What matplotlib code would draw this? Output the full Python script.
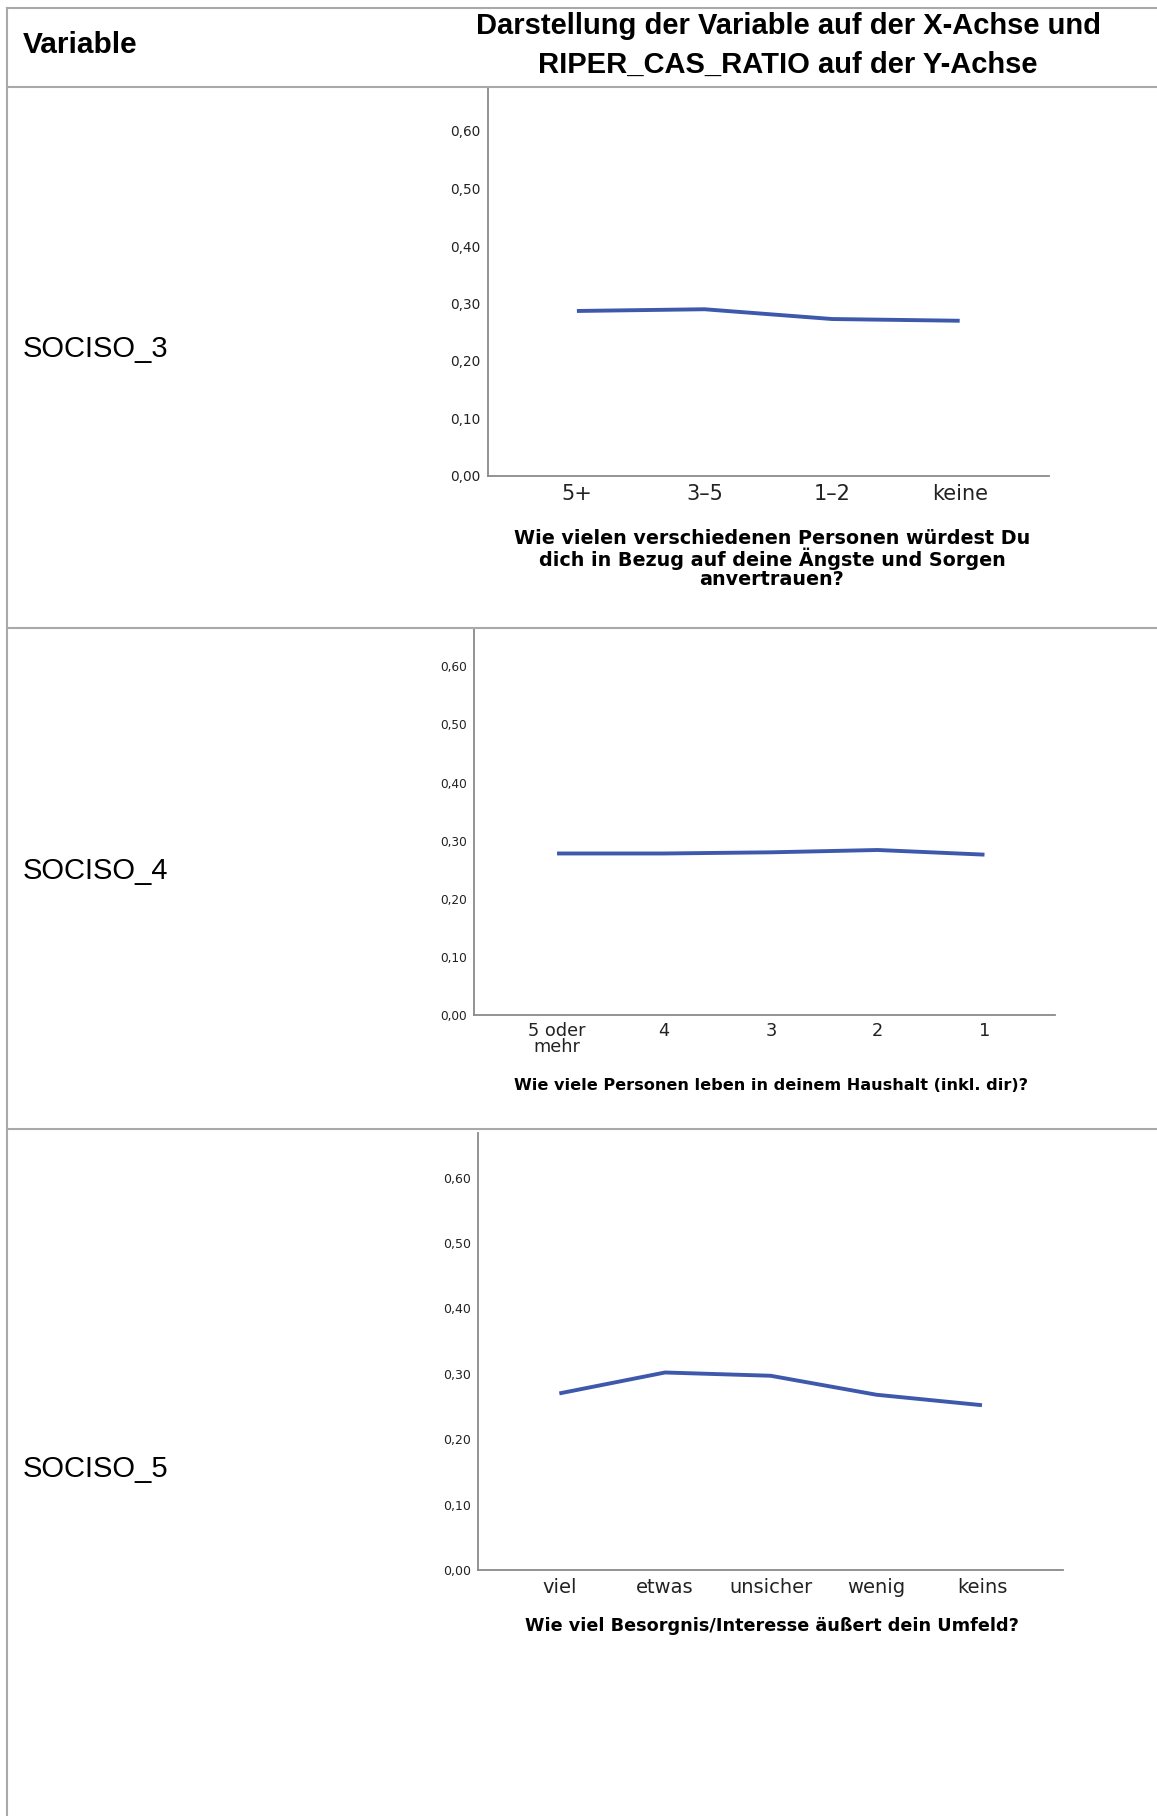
import matplotlib
matplotlib.use("Agg")
import matplotlib.pyplot as plt
from matplotlib.lines import Line2D
from matplotlib.ticker import FuncFormatter, FixedLocator

# ---------------- data ----------------
row_vars = ["SOCISO_3", "SOCISO_4", "SOCISO_5"]

cats1 = ["5+", "3–5", "1–2", "keine"]
vals1 = [0.287, 0.290, 0.273, 0.270]
title1 = "Wie vielen verschiedenen Personen würdest Du\ndich in Bezug auf deine Ängste und Sorgen\nanvertrauen?"

cats2 = ["5 oder\nmehr", "4", "3", "2", "1"]
vals2 = [0.278, 0.278, 0.280, 0.284, 0.276]
title2 = "Wie viele Personen leben in deinem Haushalt (inkl. dir)?"

cats3 = ["viel", "etwas", "unsicher", "wenig", "keins"]
vals3 = [0.270, 0.302, 0.297, 0.268, 0.252]
title3 = "Wie viel Besorgnis/Interesse äußert dein Umfeld?"

yticks = [0.0, 0.1, 0.2, 0.3, 0.4, 0.5, 0.6]

header_left = "Variable"
header_right = "Darstellung der Variable auf der X-Achse und\nRIPER_CAS_RATIO auf der Y-Achse"

# ---------------- layout ----------------
W, H = 1157, 1816
DPI = 100
fig = plt.figure(figsize=(W / DPI, H / DPI), dpi=DPI)
fig.patch.set_facecolor("white")

LINE_BLUE = "#3E58AC"
SPINE = "#8a8a8a"
BORDER = "#a9a9a9"

def fx(px):
    return px / W

def fy(py):
    return 1 - py / H

def hline(y, x0, x1, lw=1.5, color=BORDER):
    fig.add_artist(Line2D([fx(x0), fx(x1)], [fy(y), fy(y)], color=color, lw=lw))

def vline(x, y0, y1, lw=1.5, color=BORDER):
    fig.add_artist(Line2D([fx(x), fx(x)], [fy(y0), fy(y1)], color=color, lw=lw))

# table borders
hline(8, 7, W)
hline(87, 7, W)
hline(628, 7, W)
hline(1129, 7, W)
vline(7, 8, H)

# header texts
fig.text(fx(23), fy(45), header_left, fontsize=21.5, fontweight="bold",
         family="Liberation Sans", ha="left", va="center")
fig.text(fx(788), fy(45), header_right, fontsize=21, fontweight="bold",
         family="Liberation Sans", ha="center", va="center", linespacing=1.5)

# row labels
for lab, yc in zip(row_vars, [349, 871, 1469]):
    fig.text(fx(23), fy(yc), lab, fontsize=21, family="Liberation Sans",
             ha="left", va="center")

fmt = FuncFormatter(lambda v, p: f"{v:.2f}".replace(".", ","))

def make_chart(left, top, right, bottom, ppu, cats, vals, xlo, xhi,
               yfs, xfs, title, tfs, title_y, title_x, tick_pad):
    ax = fig.add_axes([fx(left), fy(bottom), fx(right) - fx(left), fy(top) - fy(bottom)])
    x = list(range(len(cats)))
    ax.plot(x, vals, color=LINE_BLUE, lw=2.8, solid_capstyle="butt")
    ax.set_xlim(xlo, xhi)
    ax.set_ylim(0, (bottom - top) / ppu)
    ax.yaxis.set_major_locator(FixedLocator(yticks))
    ax.yaxis.set_major_formatter(fmt)
    ax.set_xticks(x)
    ax.set_xticklabels(cats, linespacing=0.85)
    for s in ["top", "right"]:
        ax.spines[s].set_visible(False)
    for s in ["left", "bottom"]:
        ax.spines[s].set_color(SPINE)
        ax.spines[s].set_linewidth(1.3)
    ax.tick_params(axis="y", length=0, pad=5, labelsize=yfs, labelcolor="#222222")
    ax.tick_params(axis="x", length=0, pad=tick_pad, labelsize=xfs, labelcolor="#222222")
    ax.set_facecolor("none")
    fig.text(fx(title_x), fy(title_y), title, fontsize=tfs, fontweight="bold",
             ha="center", va="center", linespacing=0.98)
    return ax

make_chart(487.6, 88, 1049, 476, 575.0, cats1, vals1, -0.70, 3.70,
           9.8, 15.0, title1, 13.8, 559, 772, 5.5)
make_chart(473.7, 629, 1055, 1015, 581.0, cats2, vals2, -0.78, 4.66,
           8.7, 12.8, title2, 11.6, 1085, 771, 5.0)
make_chart(478.3, 1133, 1063, 1570, 654.0, cats3, vals3, -0.767, 4.767,
           9.0, 14.0, title3, 12.7, 1626, 772, 5.5)

fig.savefig("out.png", dpi=DPI, facecolor="white")
